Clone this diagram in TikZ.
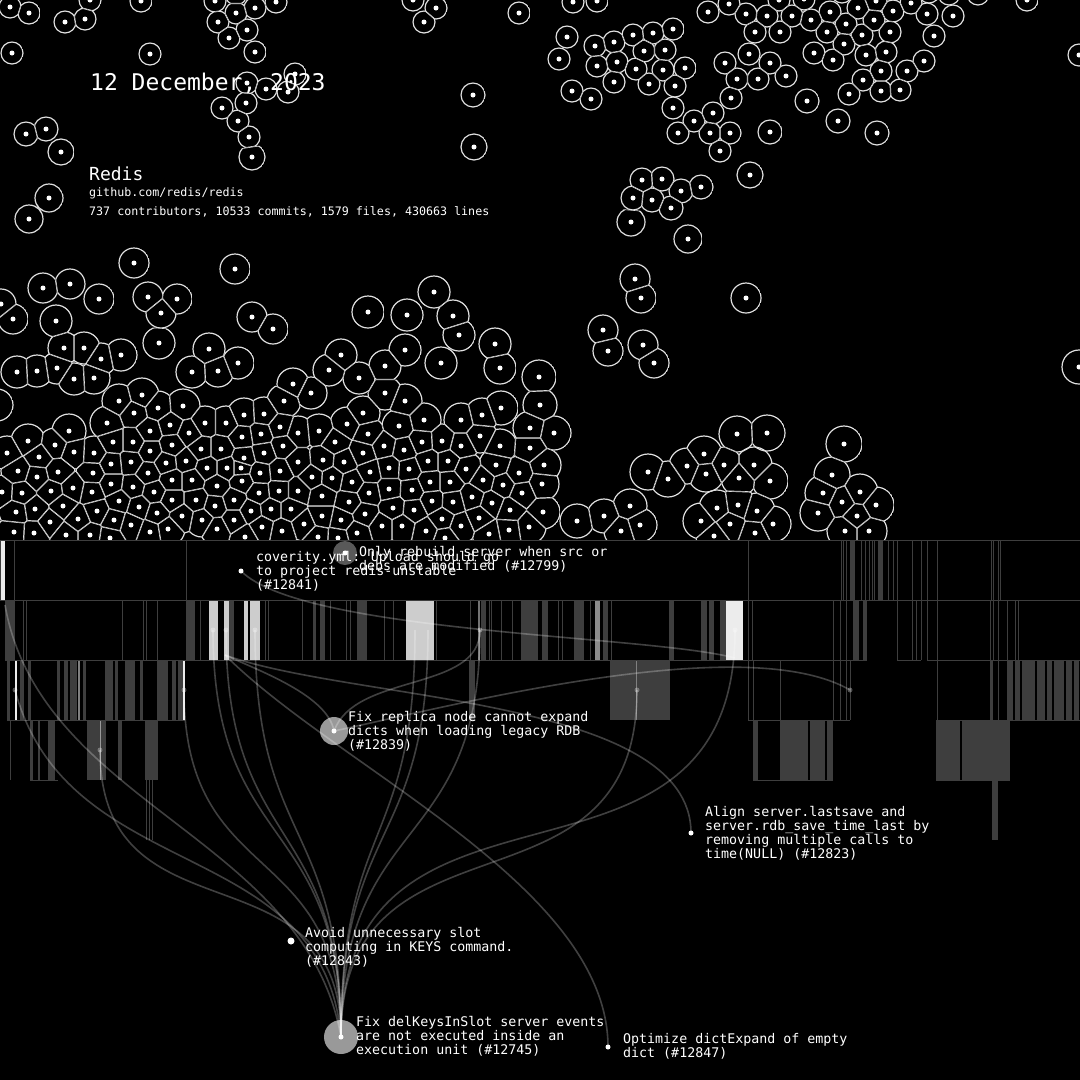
\documentclass[tikz,border=0pt]{standalone}
\usepackage{fontspec}
\setmainfont{DejaVu Sans Mono}
\usetikzlibrary{positioning}
\definecolor{stripe}{RGB}{62,62,62}
\definecolor{pale}{RGB}{205,205,205}
\definecolor{snow}{RGB}{236,236,236}
\newcount\bubn \newcount\bubj \newcount\bubdx \newcount\bubdy \newcount\bubsx \newcount\bubsy
\newcommand{\addbubbles}[2]{\foreach \px/\py in {#2}{\global\advance\bubn by 1
  \expandafter\xdef\csname bx\the\bubn\endcsname{\px}
  \expandafter\xdef\csname by\the\bubn\endcsname{\py}
  \expandafter\xdef\csname br\the\bubn\endcsname{#1}}}
\newcommand{\drawcell}[1]{%
  \edef\cellx{\csname bx#1\endcsname}\edef\celly{\csname by#1\endcsname}\edef\cellr{\csname br#1\endcsname}%
  \gdef\cellclip{}\gdef\celledge{}\bubj=0
  \loop\ifnum\bubj<\bubn
    \advance\bubj by 1
    \ifnum\bubj=#1 \else
      \bubdx=\numexpr\csname bx\the\bubj\endcsname-\cellx\relax
      \bubdy=\numexpr\csname by\the\bubj\endcsname-\celly\relax
      \ifnum\numexpr\bubdx*\bubdx+\bubdy*\bubdy\relax<1156
        \bubsx=\numexpr\cellx+\csname bx\the\bubj\endcsname\relax
        \bubsy=\numexpr\celly+\csname by\the\bubj\endcsname\relax
        \edef\cellpa{(\the\numexpr\bubsx-16*\bubdy\relax,\the\numexpr\bubsy+16*\bubdx\relax)}%
        \edef\cellpb{(\the\numexpr\bubsx+16*\bubdy\relax,\the\numexpr\bubsy-16*\bubdx\relax)}%
        \xdef\cellclip{\unexpanded\expandafter{\cellclip}\noexpand\clip \cellpa -- \cellpb -- (\the\numexpr\bubsx-16*\bubdx\relax,\the\numexpr\bubsy-16*\bubdy\relax) -- cycle;}%
        \xdef\celledge{\celledge\cellpa -- \cellpb\space}%
      \fi
    \fi
  \repeat
  \begin{scope}
    \clip (\the\numexpr2*\cellx\relax,\the\numexpr2*\celly\relax) circle[radius=\cellr pt+.6pt];
    \cellclip
    \edef\celldraw{\noexpand\draw[cellline] \celledge (\the\numexpr2*\cellx\relax,\the\numexpr2*\celly\relax) circle[radius=\cellr pt];}\celldraw
    \fill[white] (\the\numexpr2*\cellx\relax,\the\numexpr2*\celly\relax) circle[radius=2.5pt];
  \end{scope}}
\addbubbles{11}{10/7,29/13,65/22,85/19,90/0,141/1,12/53,150/54,215/1,218/22,236/13,255/8,276/2,247/30,229/38,255/52,295/74,288/92,266/89,247/83,246/103,222/108,238/121,249/137,413/0,436/8,424/22,519/13,573/2,597/1,708/12,729/4,567/37,559/59,595/46,614/42,633/35,653/33,673/29,644/51,665/50,617/62,597/66,636/69,663/70,685/68,614/82,649/84,675/86,572/91,591/99,673/108,694/121,713/113,731/98,678/133,710/133,730/133,720/151,749/54,725/63,770/63,737/79,758/79,786/76,746/14,767/16,792/16,811/20,830/12,846/24,827/32,844/44,814/53,833/60,755/32,780/32,858/8,876/1,893/11,911/3,927/14,953/16,934/36,874/20,862/35,890/32,866/55,886/52,924/61,907/71,881/71,863/80,849/94,881/91,900/90,804/-1,779/0,842/-8,929/-8,949/-6,978/-6,1027/0,1079/55,236/-6}
\addbubbles{12}{26/134,46/129,473/95,807/101,838/121,877/133,770/132,642/180,662/179,681/191,701/187,633/198,652/200,671/208}
\addbubbles{13}{61/152,252/157,474/147,750/175}
\addbubbles{14}{49/198,29/219,631/222,688/239}
\addbubbles{15}{134/263,235/269,43/288,70/284,99/299,1/304,13/319,148/297,177/299,161/313,252/317,273/329,746/298,635/279,641/298,603/330,608/351,643/345,654/363}
\addbubbles{16}{56/321,159/343,64/348,84/348,101/359,121/355,17/372,37/371,57/368,74/379,94/378,209/349,192/372,218/371,238/363,368/312,407/315,434/292,453/316,459/335,405/350,341/355,329/370,385/366,359/378,-3/405,293/384,311/393,441/363,495/344,500/368}
\addbubbles{17}{284/401,142/395,119/401,158/408,134/413,183/406,107/423,69/431,28/441,55/445,74/452,94/453,113/442,133/442,150/431,170/425,189/433,205/423,226/423,244/415,264/414,280/427,261/434,242/437,221/449,201/449,172/445,150/451,283/446,264/453,244/458,298/433,298/462,280/471,260/473,241/468,227/468,207/468,186/461,166/463,148/473,131/462,111/464,93/473,58/472,39/457,7/453,18/471,37/477,73/488,51/491,22/493,2/492,111/484,92/492,133/487,154/492,172/480,192/480,217/486,242/481,259/493,279/491,298/491,271/509,291/509,251/511,234/500,215/506,196/500,172/500,139/507,119/501,97/511,63/506,35/509,16/512,50/522,78/519,114/520,131/525,157/513,182/516,202/520,234/520,262/527,282/531,168/529,150/532,217/529,245/537,90/535,66/535,34/533,14/532,110/538,385/393,405/401,363/413,347/424,399/426,424/420,461/420,482/415,501/408,539/377,540/405,530/428,554/433,368/434,319/431,335/442,384/446,404/450,422/442,442/441,461/446,480/436,500/446,530/448,363/453,323/460,344/462,370/472,389/468,409/469,428/461,448/461,466/469,496/465,519/473,544/465,542/484,522/493,503/485,483/480,450/482,430/482,412/490,389/489,352/482,332/478,312/477,322/496,349/502,369/493,393/508,414/510,432/501,453/502,472/497,492/503,510/510,543/512,479/518,442/519,461/526,365/514,341/520,322/516,304/524,382/526,402/526,426/531,357/533,318/537,338/538,445/538,489/534,509/530,529/527,577/521,604/516,630/506,640/525,621/531,1079/367}
\addbubbles{18}{648/472,668/479,687/466,704/454,706/474,724/465,737/434,767/433,754/465,739/478,770/481,717/508,738/505,757/511,701/521,730/524,773/524,714/536,755/533,844/444,832/475,823/493,818/513,842/502,860/492,876/505,857/516,845/531,869/531}
\begin{document}
\begin{tikzpicture}[x=1pt,y=-1pt,
  cellline/.style={draw=white!88!black,line width=1.2pt},
  barbox/.style={draw=stripe,line width=1pt},
  tip/.style={circle,fill=white,opacity=.3,inner sep=0pt,minimum size=5pt},
  link/.style={white,opacity=.25,line width=1.6pt},
  commit/.style={circle,fill=white,inner sep=0pt,minimum size=5pt},
  note/.style={white,anchor=north west,align=left,inner sep=0pt,font=\fontsize{13.3}{14}\selectfont}]
\fill[black] (0,0) rectangle (1080,1080);
\useasboundingbox (0,0) rectangle (1080,1080);
% bubbles
\begin{scope}[x=.5pt,y=-.5pt]
\clip (0,0) rectangle (2160,1080);
\foreach \i in {1,...,\the\bubn} {\drawcell{\i}}
\end{scope}
% rows of the bar chart
\foreach \a/\b in {850/855,878/883} \fill[stripe] (\a,540) rectangle (\b,600);
\fill[snow] (0,540) rectangle (5,600);
\foreach \a/\b in {5/15,186/195,229/234,357/367,481/486,521/530,574/584,603/608,669/674,701/707,709/714,720/726,853/859,863/867,313/316,320/325,530/538,542/548} \fill[stripe] (\a,600) rectangle (\b,660);
\foreach \a/\b in {209/218,224/229,244/248,250/260,406/434} \fill[pale] (\a,600) rectangle (\b,660);
\fill[snow] (726,600) rectangle (743,660);
\fill[white!55!black] (595,600) rectangle (600,660);
\fill[white!45!black] (478,600) rectangle (480,660);
\foreach \a/\b in {7/10,20/24,28/31,57/60,64/68,70/77,83/86,105/113,115/118,125/135,140/143,157/168,172/176,178/183,469/475,610/670,990/993,1007/1013,1015/1020,1022/1035,1037/1045,1047/1052,1054/1064,1066/1072,1074/1079} \fill[stripe] (\a,660) rectangle (\b,720);
\foreach \a/\b in {15/17,183/185} \fill[snow] (\a,660) rectangle (\b,720);
\fill[white!50!black] (78,660) rectangle (80,720);
\fill[white!50!black] (636,660) rectangle (637,720);
\foreach \a/\b in {30/33,38/40,48/55,87/106,118/122,145/158,753/757,780/808,810/825,827/833,936/960,962/1010} \fill[stripe] (\a,720) rectangle (\b,780);
\fill[white!60!black] (100,720) rectangle (101,780);
\foreach \a/\b in {146/147,149/150,152/153,992/998} \fill[stripe] (\a,780) rectangle (\b,840);
\draw[barbox] (0,540) rectangle (1080,600);
\draw[barbox] (5,600) -- (1080,600) (5,660) -- (867,660) (897,660) -- (921,660) (927,660) -- (1080,660);
\draw[barbox] (7,720) -- (185,720) (748,720) -- (850,720) (937,720) -- (1080,720);
\draw[barbox] (30,780) -- (58,780) (753,780) -- (833,780) (936,780) -- (1010,780);
\foreach \x in {14,186,748,841,843,846,861,865,869,872,874,888,893,897,912,921,927,937,991,993,998,1000} \draw[barbox] (\x,540) -- (\x,600);
\foreach \x in {23,26,122,143,146,157,200,265,268,302,330,346,350,384,393,436,470,489,491,501,512,558,562,590,611,748,752,833,840,846,897,912,916,921,927,937,990,993,998,1007,1015,1018} \draw[barbox] (\x,600) -- (\x,660);
\foreach \x in {748,753,780,833,840,846,850,937,998} \draw[barbox] (\x,660) -- (\x,720);
\foreach \x in {10,757,780} \draw[barbox] (\x,720) -- (\x,780);
% commits
\node[tip] (lefta) at (15,690) {};
\node[tip,opacity=0] (leftb) at (5,605) {};
\node[tip] (leftc) at (100,750) {};
\node[tip] (leftd) at (184,690) {};
\node[tip] (midh) at (213,630) {};
\node[tip] (midi) at (226,630) {};
\node[tip] (midj) at (255,630) {};
\node[tip,opacity=0] (midk) at (415,630) {};
\node[tip,opacity=0] (midl) at (428,630) {};
\node[tip] (midm) at (480,630) {};
\node[tip] (blocka) at (637,690) {};
\node[tip] (blockb) at (735,630) {};
\node[tip,opacity=0] (blockc) at (735,658) {};
\node[tip] (rightd) at (850,690) {};
\node[tip,opacity=0] (forka) at (225,655) {};
\node[circle,fill=white!60!black,inner sep=0pt,minimum size=34pt] (rootbg) at (341,1037) {};
\node[circle,fill=white!60!black,inner sep=0pt,minimum size=28pt] (replicabg) at (334,731) {};
\node[circle,fill=white!35!black,inner sep=0pt,minimum size=24pt] (rebuildbg) at (345,553) {};
\node[commit] (root) at (341,1037) {};
\node[commit] (replica) at (334,731) {};
\node[commit] (rebuild) at (345,553) {};
\node[commit] (coverity) at (241,571) {};
\node[commit] (align) at (691,833) {};
\node[commit,minimum size=7pt] (avoid) at (291,941) {};
\node[commit] (optimize) at (608,1047) {};
\foreach \n in {leftc,leftd,midh,midi,midj,midk,midl,midm,blocka,blockb}
  \draw[link] (root.center) to[out=90,in=-90,looseness=1.35] (\n.center);
\draw[link] (root.center) to[out=95,in=-75,looseness=1.1] (lefta.center);
\draw[link] (root.center) to[out=100,in=-80,looseness=.95] (leftb.center);
\draw[link] (replica.center) to[out=70,in=-90,looseness=.9] (midm.center);
\draw[link] (replica.center) to[out=100,in=-25,looseness=.7] (forka.center);
\draw[link] (replica.center) to[out=12,in=150,looseness=.6] (rightd.center);
\draw[link] (align.center) to[out=90,in=-20,looseness=.7] (forka.center);
\draw[link] (optimize.center) to[out=90,in=-45,looseness=.75] (forka.center);
\draw[link] (coverity.center) to[out=-45,in=165,looseness=.45] (blockc.center);
% labels
\node[white,anchor=west,inner sep=0pt,font=\fontsize{23}{26}\selectfont] (date) at (90,83) {12 December, 2023};
\node[white,anchor=west,inner sep=0pt,font=\fontsize{18}{20}\selectfont] (repo) at (89,173.5) {Redis};
\node[white,anchor=west,inner sep=0pt,font=\fontsize{11.66}{14}\selectfont] (url) at (89,193.5) {github.com/redis/redis};
\node[white,anchor=west,inner sep=0pt,font=\fontsize{11.66}{14}\selectfont] (stats) at (89,212) {737 contributors, 10533 commits, 1579 files, 430663 lines};
\node[note] (coveritytxt) at (256,551.5) {coverity.yml: Upload should go\\to project redis-unstable\\(\#12841)};
\node[note] (rebuildtxt) at (359,546.5) {Only rebuild server when src or\\debs are modified (\#12799)};
\node[note] (replicatxt) at (348,711.5) {Fix replica node cannot expand\\dicts when loading legacy RDB\\(\#12839)};
\node[note] (aligntxt) at (705,806.5) {Align server.lastsave and\\server.rdb\_save\_time\_last by\\removing multiple calls to\\time(NULL) (\#12823)};
\node[note] (avoidtxt) at (305,927.5) {Avoid unnecessary slot\\computing in KEYS command.\\(\#12843)};
\node[note] (roottxt) at (356,1016.5) {Fix delKeysInSlot server events\\are not executed inside an\\execution unit (\#12745)};
\node[note] (optimizetxt) at (623,1033.5) {Optimize dictExpand of empty\\dict (\#12847)};
\end{tikzpicture}
\end{document}
